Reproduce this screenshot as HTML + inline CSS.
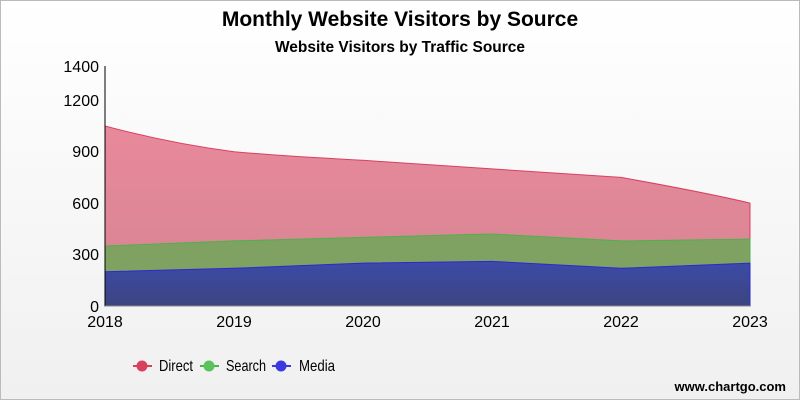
<!DOCTYPE html>
<html><head><meta charset="utf-8"><style>
body{margin:0;width:800px;height:400px;overflow:hidden}
</style></head><body>
<svg width="800" height="400" xmlns="http://www.w3.org/2000/svg" font-family="'Liberation Sans',sans-serif">
<defs>
<linearGradient id="bg" x1="0" y1="0" x2="0" y2="1"><stop offset="0" stop-color="#ffffff"/><stop offset="1" stop-color="#f0f0f0"/></linearGradient>
<linearGradient id="gd" x1="0" y1="0" x2="0" y2="1"><stop offset="0" stop-color="#e8899b"/><stop offset="1" stop-color="#d58592"/></linearGradient>
<linearGradient id="gm" x1="0" y1="0" x2="0" y2="1"><stop offset="0" stop-color="#3d4aa8"/><stop offset="1" stop-color="#3b4580"/></linearGradient>
</defs>
<rect x="0.5" y="0.5" width="799" height="399" fill="url(#bg)" stroke="#bbb"/>
<text x="400" y="26" text-anchor="middle" font-size="21" font-weight="bold">Monthly Website Visitors by Source</text>
<text x="400" y="52" text-anchor="middle" font-size="15.5" font-weight="bold">Website Visitors by Traffic Source</text>
<path d="M105,126 C150,138 190,146 234,151.7 C280,156 320,158 363,160.3 L492,168.9 L621,177.4 C680,188 720,196 750,203.1 L750,306 L105,306Z" fill="url(#gd)" stroke="#d9405e" stroke-width="1"/>
<path d="M105,246 L234,240.9 L363,237.4 L492,234 L621,240.9 L750,239.1 L750,306 L105,306Z" fill="#7fa262" stroke="#4bb34b" stroke-width="1"/>
<path d="M105,271.7 L234,268.3 L363,263.1 L492,261.4 L621,268.3 L750,263.1 L750,306 L105,306Z" fill="url(#gm)" stroke="#2a2ad0" stroke-width="1"/>
<line x1="105" y1="66" x2="105" y2="306" stroke="#000"/>
<line x1="105" y1="306" x2="750" y2="306" stroke="#888"/>
<g font-size="16" text-anchor="end">
<text x="99" y="72">1400</text><text x="99" y="106">1200</text><text x="99" y="157">900</text><text x="99" y="209">600</text><text x="99" y="260">300</text><text x="99" y="312">0</text>
</g>
<g font-size="16" text-anchor="middle">
<text x="105" y="327">2018</text><text x="234" y="327">2019</text><text x="363" y="327">2020</text><text x="492" y="327">2021</text><text x="621" y="327">2022</text><text x="750" y="327">2023</text>
</g>
<g font-size="16">
<line x1="133" y1="366" x2="152" y2="366" stroke="#d9405e" stroke-width="2"/><circle cx="142" cy="366" r="5.5" fill="#d9405e"/>
<text x="159" y="371" textLength="34" lengthAdjust="spacingAndGlyphs">Direct</text>
<line x1="200" y1="366" x2="219" y2="366" stroke="#4bb34b" stroke-width="2"/><circle cx="209" cy="366" r="5.5" fill="#5cc35c"/>
<text x="226" y="371" textLength="40" lengthAdjust="spacingAndGlyphs">Search</text>
<line x1="272" y1="366" x2="291" y2="366" stroke="#3a3ae0" stroke-width="2"/><circle cx="281" cy="366" r="5.5" fill="#3a3ae0"/>
<text x="299" y="371" textLength="36" lengthAdjust="spacingAndGlyphs">Media</text>
</g>
<text x="786" y="391" text-anchor="end" font-size="13" font-weight="bold">www.chartgo.com</text>
</svg>
</body></html>
